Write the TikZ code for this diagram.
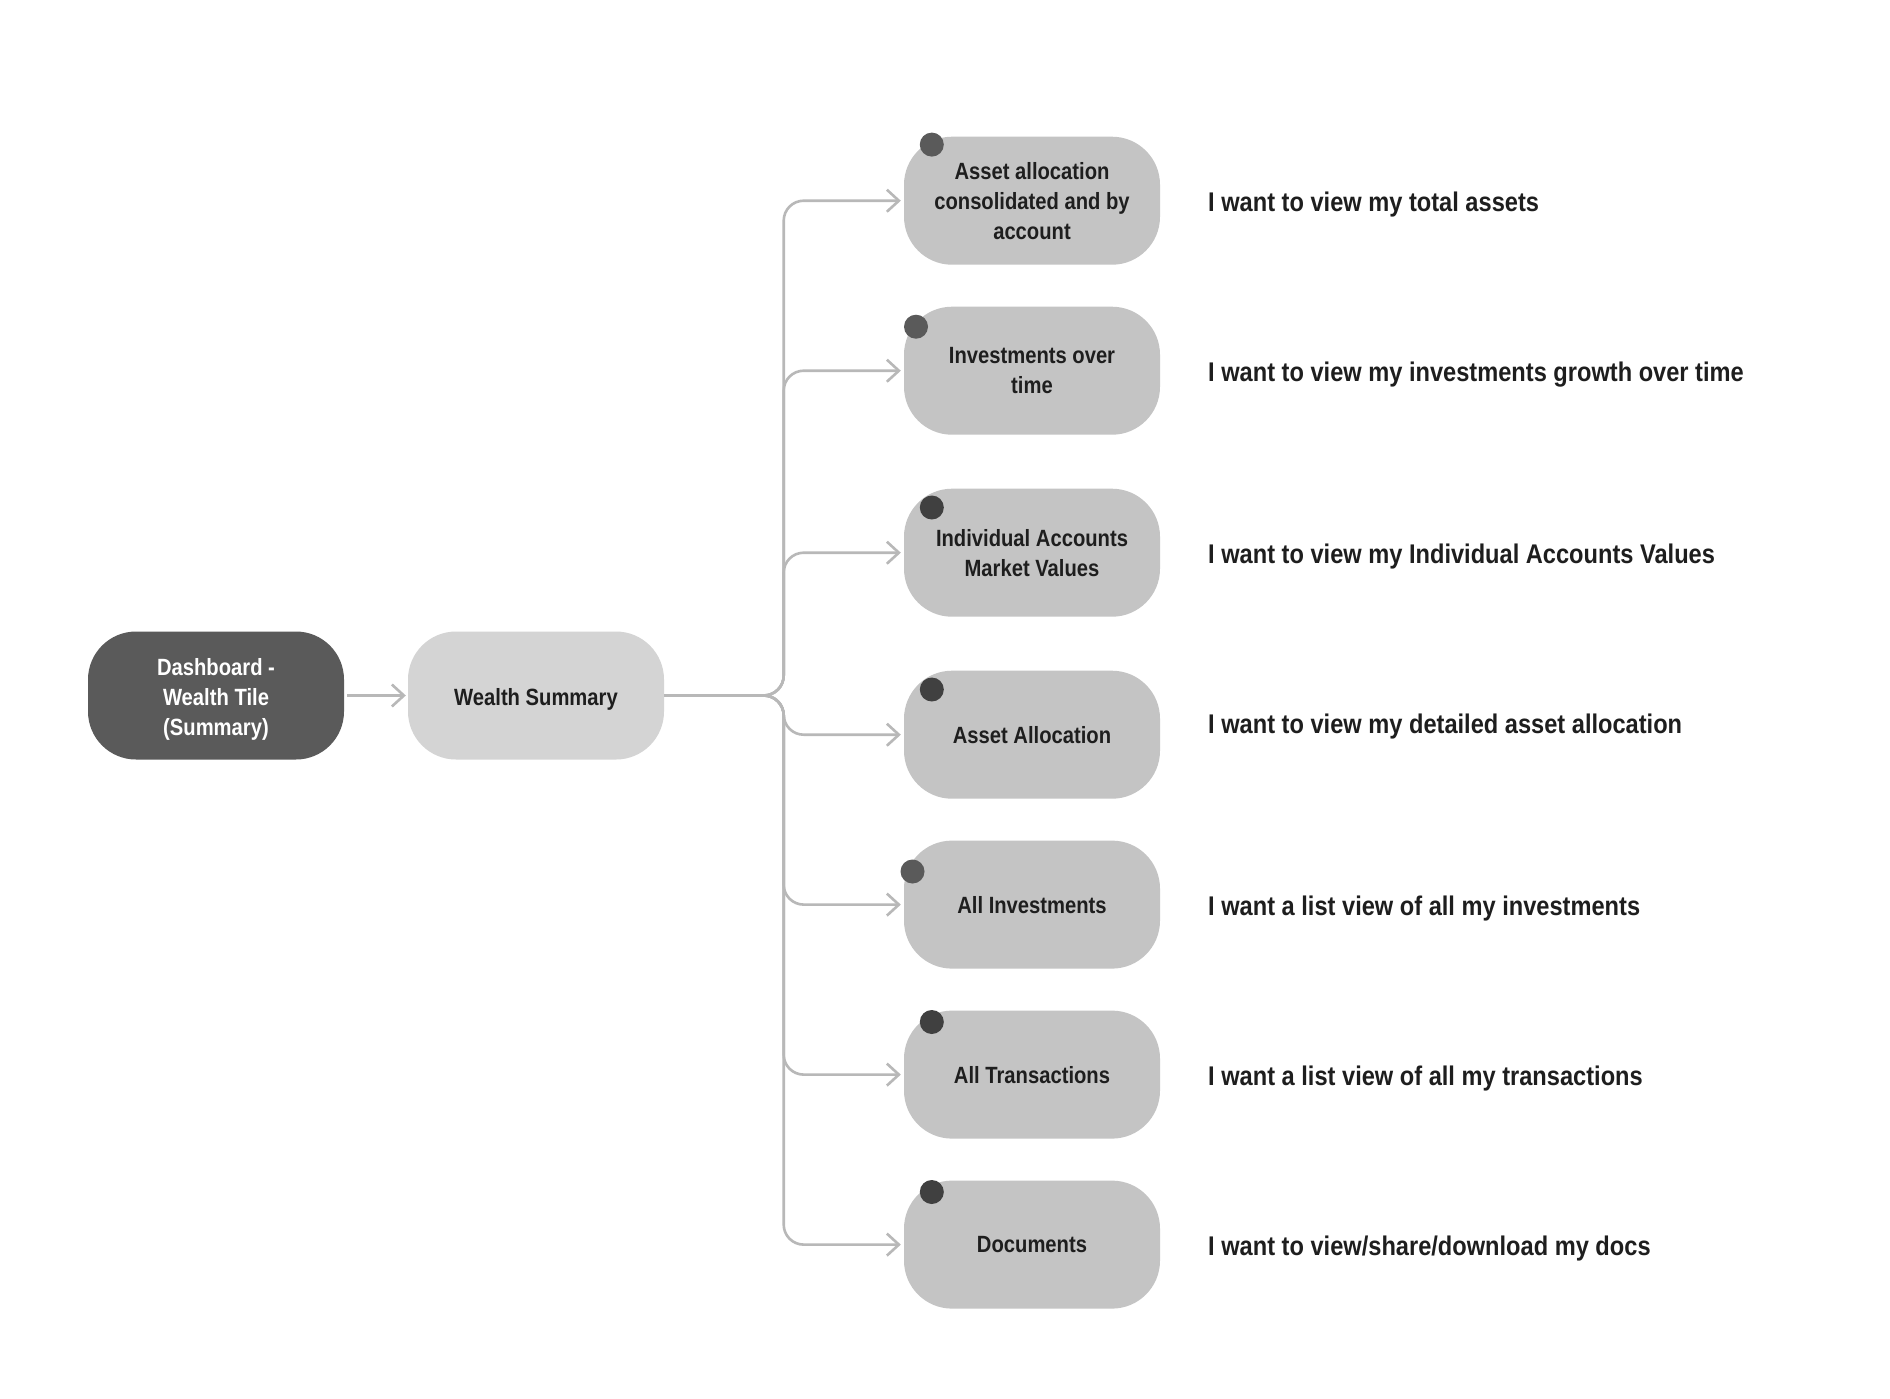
\documentclass[tikz,border=0pt]{standalone}
\usepackage{fontspec}
\setmainfont{Liberation Sans}[FakeStretch=0.86]
\newfontfamily\notefont{Liberation Sans}[FakeStretch=0.875]
\usetikzlibrary{arrows.meta}
\definecolor{darkbox}{HTML}{5A5A5A}
\definecolor{lightbox}{HTML}{D4D4D4}
\definecolor{childbox}{HTML}{C4C4C4}
\definecolor{txt}{HTML}{1E1E1E}
\definecolor{conn}{HTML}{B8B8B8}
\definecolor{dotA}{HTML}{5A5A5A}
\definecolor{dotB}{HTML}{404040}
\tikzset{
  pilltext/.style={inner sep=0pt, align=center, font=\fontsize{23.5}{30}\selectfont\bfseries, text=txt},
  pill/.style={pilltext, rounded corners=48pt, minimum width=256pt, minimum height=128pt},
  darkpill/.style={pill, fill=darkbox, text=white},
  lightpill/.style={pill, fill=lightbox},
  childpill/.style={pill, fill=childbox},
  connector/.style={draw=conn, line width=2.6pt, -{Straight Barb[length=12pt,width=22pt,line width=2.6pt]}},
  branch/.style={connector, rounded corners=20pt, shorten >=3pt},
  note/.style={anchor=west, inner sep=0pt, font=\notefont\fontsize{27}{32}\selectfont\bfseries, text=txt},
  dot/.style={circle, inner sep=0pt, minimum size=24pt},
}
\begin{document}
\begin{tikzpicture}[x=1pt,y=-1pt]
\useasboundingbox[fill=white] (0,0) rectangle (1890,1398);
\node[darkpill] (dash) at (216,695.5) {};
\node[pilltext, text=white] (dashlabel) at ([yshift=-3.6pt]dash.center) {Dashboard -\\Wealth Tile\\(Summary)};
\node[lightpill] (ws) at (536,695.5) {};
\node[pilltext] (wslabel) at ([yshift=-3.6pt]ws.center) {Wealth Summary};
\draw[connector, shorten <=3pt, shorten >=2pt] (dash) -- (ws);

\node[childpill] (c1) at (1032,200.7) {Asset allocation\\consolidated and by\\account};
\node[childpill] (c2) at (1032,370.7) {Investments over\\time};
\node[childpill] (c3) at (1032,552.7) {Individual Accounts\\Market Values};
\node[childpill] (c4) at (1032,734.7) {Asset Allocation};
\node[childpill] (c5) at (1032,904.6) {All Investments};
\node[childpill] (c6) at (1032,1074.6) {All Transactions};
\node[childpill] (c7) at (1032,1244.6) {Documents};

\node[dot, fill=dotA] (d1) at (931.8,144.6) {};
\node[dot, fill=dotA] (d2) at (916,326.7) {};
\node[dot, fill=dotB] (d3) at (931.8,507.5) {};
\node[dot, fill=dotB] (d4) at (931.8,689.5) {};
\node[dot, fill=dotA] (d5) at (912.5,871.5) {};
\node[dot, fill=dotB] (d6) at (931.8,1022) {};
\node[dot, fill=dotB] (d7) at (931.8,1192) {};

\foreach \c in {c1,c2,c3,c4,c5,c6,c7}{
  \draw[branch] (ws.east) -- ++(119.5,0) |- (\c.west);
}

\node[note] (t1) at (1208,204.2) {I want to view my total assets};
\node[note] (t2) at (1208,374.2) {I want to view my investments growth over time};
\node[note] (t3) at (1208,556.2) {I want to view my Individual Accounts Values};
\node[note] (t4) at (1208,727) {I want to view my detailed asset allocation};
\node[note] (t5) at (1208,909) {I want a list view of all my investments};
\node[note] (t6) at (1208,1079) {I want a list view of all my transactions};
\node[note] (t7) at (1208,1249) {I want to view/share/download my docs};
\end{tikzpicture}
\end{document}
